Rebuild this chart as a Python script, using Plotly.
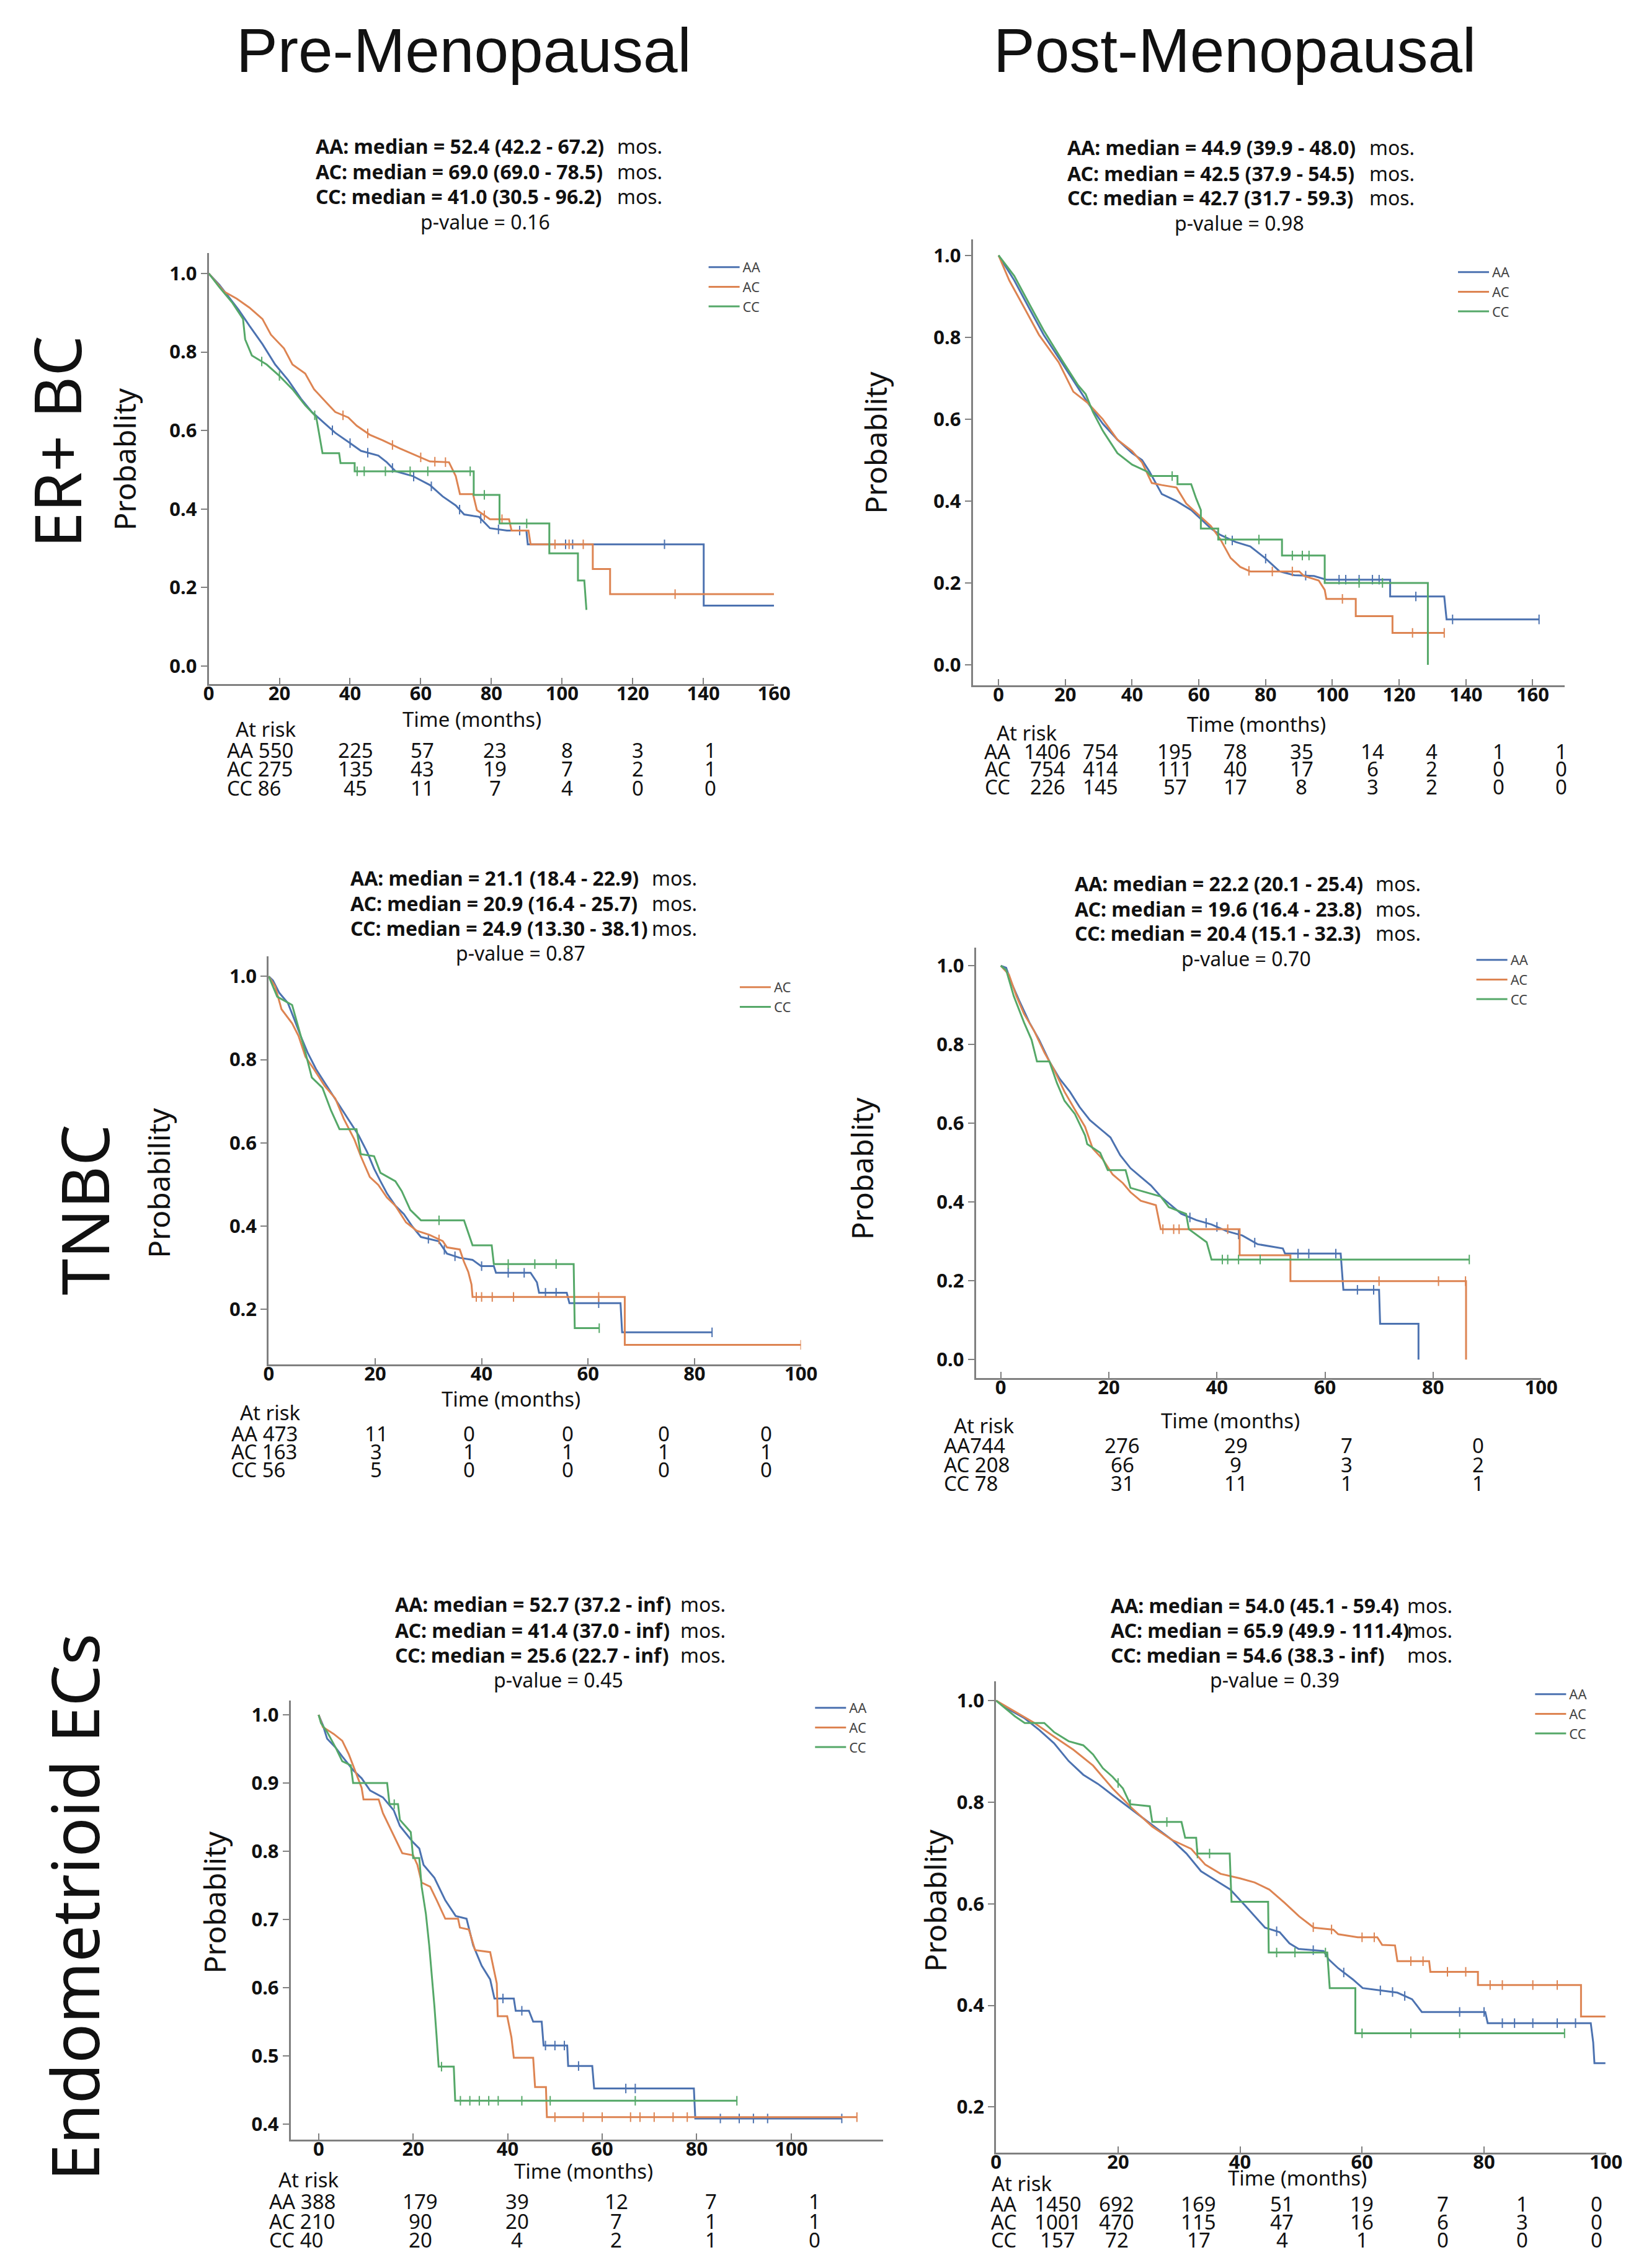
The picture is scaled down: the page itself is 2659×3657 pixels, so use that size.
import numpy as np
import plotly.graph_objects as go

W, H = 2659, 3657

GROUPS = ["AA", "AC", "CC"]
COLORS = {"AA": "#4C72B0", "AC": "#DD8452", "CC": "#55A868"}
COL_TITLES = ["Pre-Menopausal", "Post-Menopausal"]
ROW_TITLES = ["ER+ BC", "TNBC", "Endometrioid ECs"]

# ---------------- Panel 1: ER+ BC, pre-menopausal ----------------
P1_AA_t = [0, 3, 5.5, 8.5, 11.5, 15.2, 18.8, 22.5, 26.1, 29.2, 32.2, 35.8, 39.5, 43.1, 48, 50.4, 52.9, 57.7, 62.6, 66.2, 69.9, 72.3, 76.5, 79.6, 84.4, 89.9, 90.3, 140.1, 140.1, 160]
P1_AA_s = [1.0, 0.971, 0.942, 0.907, 0.867, 0.82, 0.768, 0.728, 0.681, 0.647, 0.623, 0.594, 0.571, 0.548, 0.536, 0.519, 0.496, 0.484, 0.461, 0.432, 0.409, 0.386, 0.38, 0.351, 0.345, 0.345, 0.31, 0.31, 0.154, 0.154]
P1_AA_c = [35, 40, 45, 52, 58, 63, 71, 77, 82, 88, 101, 103, 129]
P1_AC_t = [0, 4.3, 7.9, 11.5, 15.2, 17.6, 21.3, 23.7, 27.3, 29.8, 33.4, 35.8, 39.5, 41.9, 45.6, 49.2, 54.1, 58.9, 62.6, 68, 69.9, 71.1, 74.8, 75.9, 79.6, 85, 85.7, 90.5, 91.1, 108.7, 108.7, 113.6, 113.6, 160]
P1_AC_s = [1.0, 0.954, 0.936, 0.913, 0.884, 0.844, 0.809, 0.768, 0.745, 0.705, 0.67, 0.647, 0.633, 0.612, 0.589, 0.575, 0.554, 0.536, 0.521, 0.519, 0.484, 0.438, 0.438, 0.397, 0.374, 0.374, 0.345, 0.345, 0.31, 0.31, 0.247, 0.247, 0.183, 0.183]
P1_AC_c = [38, 45, 52, 60, 64, 67, 78, 83, 98, 102, 106, 132]
P1_CC_t = [0, 3, 6.7, 9.7, 10.3, 12.2, 16.4, 20, 23.7, 27.3, 30.4, 31.6, 32.2, 36.9, 37.3, 41.3, 41.3, 75, 75, 82.3, 82.3, 96.4, 96.4, 104.5, 104.5, 106.3, 106.9]
P1_CC_s = [1.0, 0.965, 0.925, 0.884, 0.832, 0.791, 0.768, 0.739, 0.705, 0.664, 0.635, 0.577, 0.542, 0.542, 0.517, 0.517, 0.496, 0.496, 0.436, 0.436, 0.363, 0.363, 0.287, 0.287, 0.218, 0.218, 0.143]
P1_CC_c = [15, 20, 30, 42, 44, 50, 57, 62, 74, 78, 90]
P1_MEDIAN = ["52.4 (42.2 - 67.2)", "69.0 (69.0 - 78.5)", "41.0 (30.5 - 96.2)"]
P1_PVALUE = "0.16"
P1_RISK = {"AA": [550, 225, 57, 23, 8, 3, 1, 1], "AC": [275, 135, 43, 19, 7, 2, 1, 0], "CC": [86, 45, 11, 7, 4, 0, 0, 0]}

# ---------------- Panel 2: ER+ BC, post-menopausal ----------------
P2_AA_t = [0, 4.7, 9.1, 13.5, 18, 22.4, 26.8, 31.2, 35.6, 40, 43, 45.2, 48.9, 53.3, 57.7, 60.6, 63.6, 66.5, 71, 75.4, 79.8, 84.2, 88.6, 94.5, 98.2, 117.3, 117.3, 133.5, 134.2, 161.9]
P2_AA_s = [1.0, 0.939, 0.872, 0.806, 0.75, 0.694, 0.639, 0.589, 0.55, 0.517, 0.5, 0.472, 0.417, 0.4, 0.378, 0.356, 0.333, 0.317, 0.3, 0.289, 0.261, 0.228, 0.219, 0.217, 0.208, 0.208, 0.167, 0.167, 0.111, 0.111]
P2_AA_c = [70, 80, 92, 102, 104, 108, 112, 114, 125, 136, 161.9]
P2_AC_t = [0, 3.2, 7.7, 12.1, 18, 22.4, 26.8, 31.2, 35.6, 40, 43, 45.9, 48.9, 53.3, 56.2, 60.6, 63.6, 66.5, 69.5, 72.4, 75.4, 90.1, 91.5, 95.9, 97.7, 98.2, 107, 107, 118, 118, 133.5]
P2_AC_s = [1.0, 0.939, 0.872, 0.806, 0.739, 0.667, 0.639, 0.6, 0.55, 0.522, 0.494, 0.444, 0.439, 0.433, 0.394, 0.361, 0.339, 0.306, 0.261, 0.239, 0.228, 0.228, 0.217, 0.206, 0.183, 0.161, 0.161, 0.119, 0.119, 0.078, 0.078]
P2_AC_c = [75, 82, 88, 103, 124, 133.5]
P2_CC_t = [0, 4.7, 9.1, 13.5, 19.4, 23.8, 26.1, 28.3, 31.2, 35.6, 40, 44.5, 45.6, 53.6, 53.6, 57.7, 59.2, 60.6, 60.6, 65.8, 65.8, 84.9, 84.9, 97.7, 97.7, 128.6, 128.6]
P2_CC_s = [1.0, 0.95, 0.883, 0.817, 0.739, 0.683, 0.661, 0.617, 0.572, 0.517, 0.489, 0.472, 0.461, 0.461, 0.441, 0.441, 0.406, 0.378, 0.333, 0.333, 0.306, 0.306, 0.267, 0.267, 0.2, 0.2, 0.0]
P2_CC_c = [52, 68, 78, 88, 91, 93, 108, 115]
P2_MEDIAN = ["44.9 (39.9 - 48.0)", "42.5 (37.9 - 54.5)", "42.7 (31.7 - 59.3)"]
P2_PVALUE = "0.98"
P2_RISK = {"AA": [1406, 754, 195, 78, 35, 14, 4, 1, 1], "AC": [754, 414, 111, 40, 17, 6, 2, 0, 0], "CC": [226, 145, 57, 17, 8, 3, 2, 0, 0]}

# ---------------- Panel 3: TNBC, pre-menopausal ----------------
P3_AA_t = [0, 0.8, 2, 3.6, 4.8, 6, 7.3, 8.9, 10.9, 12.9, 14.9, 16.9, 18.5, 19.8, 21, 22.2, 23.8, 25.4, 27, 28.6, 31.9, 33.5, 35.9, 38.3, 39.9, 42.3, 42.7, 49.2, 50.4, 50.8, 56, 56.5, 66.1, 66.4, 83.3]
P3_AA_s = [1.0, 0.99, 0.96, 0.936, 0.897, 0.857, 0.817, 0.777, 0.737, 0.698, 0.658, 0.618, 0.578, 0.538, 0.508, 0.479, 0.449, 0.429, 0.399, 0.374, 0.364, 0.334, 0.324, 0.319, 0.304, 0.304, 0.288, 0.288, 0.265, 0.24, 0.24, 0.215, 0.215, 0.145, 0.145]
P3_AA_c = [30, 33, 35, 40, 45, 48, 52, 54, 62, 83.3]
P3_AC_t = [0, 1.2, 2.4, 4.4, 5.6, 6.9, 8.5, 10.5, 12.5, 14.1, 16.1, 17.3, 19, 20.6, 22.2, 23.8, 25.8, 27.8, 30.2, 32.7, 33.5, 35.9, 36.7, 37.5, 38.1, 38.3, 66.9, 66.9, 100]
P3_AC_s = [1.0, 0.976, 0.921, 0.887, 0.857, 0.807, 0.777, 0.737, 0.707, 0.658, 0.608, 0.568, 0.518, 0.499, 0.469, 0.449, 0.409, 0.389, 0.379, 0.364, 0.349, 0.344, 0.314, 0.29, 0.26, 0.23, 0.23, 0.115, 0.115]
P3_AC_c = [32, 39, 40, 42, 46, 62, 100]
P3_CC_t = [0, 1.6, 4.4, 5.6, 6.9, 8.1, 10.1, 11.7, 13.3, 16.5, 17.3, 19.8, 21, 23.8, 25, 26.6, 28.6, 36.7, 38.3, 41.9, 42.3, 57.3, 57.5, 62.1]
P3_CC_s = [1.0, 0.951, 0.931, 0.877, 0.817, 0.757, 0.732, 0.678, 0.633, 0.633, 0.573, 0.568, 0.528, 0.508, 0.484, 0.439, 0.414, 0.414, 0.354, 0.354, 0.309, 0.309, 0.155, 0.155]
P3_CC_c = [32, 45, 50, 54, 62.1]
P3_MEDIAN = ["21.1 (18.4 - 22.9)", "20.9 (16.4 - 25.7)", "24.9 (13.30 - 38.1)"]
P3_PVALUE = "0.87"
P3_RISK = {"AA": [473, 11, 0, 0, 0, 0], "AC": [163, 3, 1, 1, 1, 1], "CC": [56, 5, 0, 0, 0, 0]}

# ---------------- Panel 4: TNBC, post-menopausal ----------------
P4_AA_t = [0, 1, 2, 3.4, 5.3, 7.1, 9, 10.9, 12.8, 14.6, 16.5, 18.4, 20.3, 22.1, 24, 25.9, 27.8, 29.6, 31.5, 33.4, 36.2, 39, 41.8, 44.7, 47.5, 52.2, 52.6, 62.9, 63.4, 70, 70.2, 77.3, 77.3]
P4_AA_s = [1.0, 0.995, 0.956, 0.912, 0.856, 0.812, 0.757, 0.713, 0.68, 0.641, 0.608, 0.586, 0.564, 0.519, 0.486, 0.464, 0.442, 0.414, 0.392, 0.37, 0.354, 0.343, 0.326, 0.315, 0.293, 0.282, 0.269, 0.269, 0.177, 0.177, 0.091, 0.091, 0.0]
P4_AA_c = [35, 38, 40, 44, 47, 55, 57, 62, 66, 69]
P4_AC_t = [0, 1.5, 2.9, 4.3, 6.2, 8.1, 9.9, 11.8, 13.7, 15.6, 17, 18.9, 20.7, 22.6, 24, 25.9, 28.7, 29.6, 44.2, 44.2, 53.6, 53.6, 86.1, 86.1]
P4_AC_s = [1.0, 0.978, 0.923, 0.878, 0.834, 0.779, 0.735, 0.68, 0.635, 0.591, 0.536, 0.508, 0.47, 0.448, 0.425, 0.403, 0.392, 0.331, 0.331, 0.265, 0.265, 0.199, 0.199, 0.0]
P4_AC_c = [30, 32, 33, 42, 70, 81, 86]
P4_CC_t = [0, 1, 2.4, 4.3, 5.7, 6.7, 9, 10.4, 11.8, 13.7, 15.6, 16, 18.4, 19.8, 23.1, 24, 29.6, 31.1, 34.3, 34.8, 38.1, 39, 86.7]
P4_CC_s = [1.0, 0.989, 0.923, 0.856, 0.812, 0.757, 0.757, 0.702, 0.657, 0.624, 0.569, 0.547, 0.525, 0.481, 0.481, 0.436, 0.414, 0.387, 0.37, 0.331, 0.298, 0.254, 0.254]
P4_CC_c = [41, 42, 44, 48, 86.7]
P4_MEDIAN = ["22.2 (20.1 - 25.4)", "19.6 (16.4 - 23.8)", "20.4 (15.1 - 32.3)"]
P4_PVALUE = "0.70"
P4_RISK = {"AA": [744, 276, 29, 7, 0], "AC": [208, 66, 9, 3, 2], "CC": [78, 31, 11, 1, 1]}

# ---------------- Panel 5: Endometrioid ECs, pre-menopausal ----------------
P5_AA_t = [0, 0.9, 1.8, 3.6, 5, 7.3, 9.1, 10.9, 13.6, 15.9, 17.2, 20, 21.3, 22.2, 24.5, 26.8, 29, 31.3, 32.7, 34.5, 36.3, 37.2, 41.3, 41.7, 44.5, 45.4, 47.2, 47.6, 52.6, 52.8, 57.9, 58.3, 79.4, 79.7, 110.7]
P5_AA_s = [1.0, 0.985, 0.965, 0.952, 0.939, 0.919, 0.907, 0.889, 0.879, 0.86, 0.837, 0.813, 0.804, 0.78, 0.761, 0.728, 0.705, 0.701, 0.662, 0.632, 0.612, 0.584, 0.584, 0.566, 0.566, 0.55, 0.55, 0.515, 0.515, 0.485, 0.485, 0.452, 0.452, 0.408, 0.408]
P5_AA_c = [39, 43, 48, 50, 52, 55, 65, 67, 85, 89, 92, 95, 110.7]
P5_AC_t = [0, 0.9, 3.2, 5, 6.4, 7.7, 9.1, 9.5, 12.7, 13.6, 15.4, 16.8, 17.7, 20, 20.9, 21.8, 23.6, 25, 26.8, 29.5, 29.9, 31.8, 33.1, 36.3, 37.7, 37.9, 39.9, 40.8, 41.3, 45.4, 45.8, 48.1, 48.3, 113.9]
P5_AC_s = [1.0, 0.982, 0.972, 0.962, 0.942, 0.919, 0.893, 0.876, 0.876, 0.856, 0.83, 0.81, 0.797, 0.794, 0.78, 0.754, 0.748, 0.728, 0.701, 0.701, 0.688, 0.685, 0.655, 0.652, 0.606, 0.558, 0.558, 0.527, 0.497, 0.497, 0.454, 0.454, 0.41, 0.41]
P5_AC_c = [50, 56, 60, 66, 68, 71, 75, 78, 113.9]
P5_CC_t = [0, 0.5, 1.8, 3.6, 5, 6.8, 7.3, 14.5, 15, 16.8, 17.2, 19.5, 20, 21.3, 21.8, 22.7, 23.4, 24, 24.5, 24.95, 25.4, 28.6, 28.9, 88.5]
P5_CC_s = [1.0, 0.988, 0.975, 0.952, 0.932, 0.926, 0.9, 0.9, 0.869, 0.869, 0.846, 0.828, 0.79, 0.79, 0.748, 0.708, 0.662, 0.616, 0.573, 0.53, 0.484, 0.484, 0.434, 0.434]
P5_CC_c = [16, 26, 30, 32, 34, 36, 38, 43, 49, 67, 88.5]
P5_MEDIAN = ["52.7 (37.2 - inf)", "41.4 (37.0 - inf)", "25.6 (22.7 - inf)"]
P5_PVALUE = "0.45"
P5_RISK = {"AA": [388, 179, 39, 12, 7, 1], "AC": [210, 90, 20, 7, 1, 1], "CC": [40, 20, 4, 2, 1, 0]}

# ---------------- Panel 6: Endometrioid ECs, post-menopausal ----------------
P6_AA_t = [0, 2.2, 4.7, 7.1, 9.5, 11.9, 14.3, 16.7, 19.1, 21.5, 24, 26.4, 28.8, 31.2, 33.6, 36, 38.4, 40.8, 42.4, 44.1, 46.5, 48.1, 49.6, 53.7, 54.5, 56.1, 58.5, 60.1, 63.3, 65.8, 68.2, 69.8, 80.2, 80.6, 97.5, 97.9, 98.1, 99.9]
P6_AA_s = [1.0, 0.982, 0.965, 0.942, 0.916, 0.881, 0.854, 0.836, 0.814, 0.792, 0.77, 0.748, 0.726, 0.699, 0.664, 0.646, 0.628, 0.597, 0.575, 0.553, 0.544, 0.522, 0.511, 0.507, 0.491, 0.473, 0.451, 0.434, 0.429, 0.425, 0.412, 0.387, 0.387, 0.365, 0.365, 0.327, 0.286, 0.286]
P6_AA_c = [46, 52, 57, 63, 65, 67, 76, 80, 83, 85, 88, 92, 95]
P6_AC_t = [0, 3.1, 6.3, 9.5, 12.7, 15.9, 19.1, 22.3, 25.6, 28.8, 32, 34.3, 36.8, 40, 42.4, 44.8, 47.3, 49.7, 52.1, 55.3, 56.1, 59.3, 62.5, 63.3, 65.4, 65.8, 71, 71.2, 79, 79, 95.9, 95.9, 99.9]
P6_AC_s = [1.0, 0.978, 0.956, 0.929, 0.903, 0.872, 0.827, 0.788, 0.752, 0.726, 0.708, 0.677, 0.659, 0.65, 0.642, 0.628, 0.602, 0.575, 0.553, 0.549, 0.54, 0.534, 0.534, 0.519, 0.518, 0.487, 0.487, 0.466, 0.466, 0.44, 0.44, 0.378, 0.378]
P6_AC_c = [52, 55, 60, 62, 68, 70, 74, 77, 81, 83, 88, 92]
P6_CC_t = [0, 3.1, 4.7, 7.9, 9.5, 11.9, 14.3, 15.9, 17.5, 19.1, 20.8, 22, 25.2, 25.6, 30.4, 31, 32.8, 33, 38.3, 38.6, 44.6, 44.7, 54.3, 54.7, 58.9, 58.9, 93.2]
P6_CC_s = [1.0, 0.969, 0.956, 0.956, 0.938, 0.92, 0.912, 0.894, 0.867, 0.85, 0.827, 0.796, 0.792, 0.761, 0.761, 0.73, 0.73, 0.699, 0.699, 0.604, 0.604, 0.504, 0.504, 0.434, 0.434, 0.345, 0.345]
P6_CC_c = [20, 22, 28, 33, 35, 46, 49, 54, 60, 68, 76, 93.2]
P6_MEDIAN = ["54.0 (45.1 - 59.4)", "65.9 (49.9 - 111.4)", "54.6 (38.3 - inf)"]
P6_PVALUE = "0.39"
P6_RISK = {"AA": [1450, 692, 169, 51, 19, 7, 1, 0], "AC": [1001, 470, 115, 47, 16, 6, 3, 0], "CC": [157, 72, 17, 4, 1, 0, 0, 0]}

CURVES = {
    1: {"AA": (P1_AA_t, P1_AA_s, P1_AA_c), "AC": (P1_AC_t, P1_AC_s, P1_AC_c), "CC": (P1_CC_t, P1_CC_s, P1_CC_c)},
    2: {"AA": (P2_AA_t, P2_AA_s, P2_AA_c), "AC": (P2_AC_t, P2_AC_s, P2_AC_c), "CC": (P2_CC_t, P2_CC_s, P2_CC_c)},
    3: {"AA": (P3_AA_t, P3_AA_s, P3_AA_c), "AC": (P3_AC_t, P3_AC_s, P3_AC_c), "CC": (P3_CC_t, P3_CC_s, P3_CC_c)},
    4: {"AA": (P4_AA_t, P4_AA_s, P4_AA_c), "AC": (P4_AC_t, P4_AC_s, P4_AC_c), "CC": (P4_CC_t, P4_CC_s, P4_CC_c)},
    5: {"AA": (P5_AA_t, P5_AA_s, P5_AA_c), "AC": (P5_AC_t, P5_AC_s, P5_AC_c), "CC": (P5_CC_t, P5_CC_s, P5_CC_c)},
    6: {"AA": (P6_AA_t, P6_AA_s, P6_AA_c), "AC": (P6_AC_t, P6_AC_s, P6_AC_c), "CC": (P6_CC_t, P6_CC_s, P6_CC_c)},
}
MEDIANS = {1: P1_MEDIAN, 2: P2_MEDIAN, 3: P3_MEDIAN, 4: P4_MEDIAN, 5: P5_MEDIAN, 6: P6_MEDIAN}
PVALUES = {1: P1_PVALUE, 2: P2_PVALUE, 3: P3_PVALUE, 4: P4_PVALUE, 5: P5_PVALUE, 6: P6_PVALUE}
RISKS = {1: P1_RISK, 2: P2_RISK, 3: P3_RISK, 4: P4_RISK, 5: P5_RISK, 6: P6_RISK}

# ---------------- layout (pixel positions) ----------------
PANELS = {
    1: dict(xd=(324, 1248), yd=(400, 1095), xr=[0, 160], yr=[-0.046, 1.052],
            xt=[0, 20, 40, 60, 80, 100, 120, 140, 160], yt=[0, 0.2, 0.4, 0.6, 0.8, 1.0],
            ty=(235, 275, 316, 356), tx=497, mx=989, px=776,
            yl=(203, 732, "Probablity"), xl=(754, 1159),
            leg=(1141, 429), leg_groups=GROUPS,
            rh=(418, 1174), rr=(1208, 1238, 1269), rlx=352, inline=True, sep=[" ", " ", " "],
            rc=[41.5, 60.5, 81, 101.5, 121.5, 142, 162]),
    2: dict(xd=(1573, 2540), yd=(378, 1097), xr=[-7.7, 169.5], yr=[-0.05, 1.039],
            xt=[0, 20, 40, 60, 80, 100, 120, 140, 160], yt=[0, 0.2, 0.4, 0.6, 0.8, 1.0],
            ty=(237, 278, 318, 358), tx=1725, mx=2219, px=2009,
            yl=(1430, 706, "Probablity"), xl=(2037, 1166),
            leg=(2366, 437), leg_groups=GROUPS,
            rh=(1661, 1181), rr=(1210, 1238, 1267), rlx=1613, inline=False,
            rc=[14.7, 30.5, 52.9, 71, 90.8, 112, 129.8, 149.7, 168.5]),
    3: dict(xd=(422, 1292), yd=(1534, 2192), xr=[0, 100], yr=[0.068, 1.048],
            xt=[0, 20, 40, 60, 80, 100], yt=[0.2, 0.4, 0.6, 0.8, 1.0],
            ty=(1415, 1455, 1495, 1535), tx=553, mx=1046, px=834,
            yl=(258, 1900, "Probability"), xl=(818, 2254),
            leg=(1192, 1590), leg_groups=["AC", "CC"],
            rh=(425, 2276), rr=(2310, 2339, 2368), rlx=359, inline=True, sep=[" ", " ", " "],
            rc=[20.2, 37.7, 56.2, 74.2, 93.5]),
    4: dict(xd=(1578, 2502), yd=(1520, 2214), xr=[-4.6, 100], yr=[-0.047, 1.046],
            xt=[0, 20, 40, 60, 80, 100], yt=[0, 0.2, 0.4, 0.6, 0.8, 1.0],
            ty=(1423, 1464, 1504, 1544), tx=1738, mx=2229, px=2020,
            yl=(1408, 1876, "Probablity"), xl=(1994, 2289),
            leg=(2396, 1546), leg_groups=GROUPS,
            rh=(1592, 2297), rr=(2329, 2360, 2390), rlx=1524, inline=True, sep=["", " ", " "],
            rc=[22.5, 43.5, 64, 88.3]),
    5: dict(xd=(458, 1426), yd=(2734, 3442), xr=[-5.9, 119.4], yr=[0.377, 1.021],
            xt=[0, 20, 40, 60, 80, 100], yt=[0.4, 0.5, 0.6, 0.7, 0.8, 0.9, 1.0],
            ty=(2585, 2627, 2667, 2707), tx=626, mx=1093, px=896,
            yl=(349, 3060, "Probablity"), xl=(937, 3499),
            leg=(1315, 2752), leg_groups=GROUPS,
            rh=(488, 3513), rr=(3548, 3580, 3610), rlx=421, inline=True, sep=[" ", " ", " "],
            rc=[21.5, 42, 63, 83, 105]),
    6: dict(xd=(1611, 2608), yd=(2703, 3463), xr=[0, 100], yr=[0.11, 1.038],
            xt=[0, 20, 40, 60, 80, 100], yt=[0.2, 0.4, 0.6, 0.8, 1.0],
            ty=(2587, 2627, 2667, 2707), tx=1796, mx=2281, px=2066,
            yl=(1527, 3057, "Probablity"), xl=(2103, 3510),
            leg=(2492, 2730), leg_groups=GROUPS,
            rh=(1653, 3519), rr=(3552, 3581, 3610), rlx=1623, inline=False,
            rc=[10.1, 19.8, 33.2, 46.9, 60, 73.2, 86.3, 98.5]),
}

FONT = "Noto Sans"
INK = "#111111"
AXIS_GRAY = "#808080"
TEXT_DY = -7      # glyph centre sits below the annotation box centre
ROT_DX = -17      # same correction for text turned by -90 degrees


def fx(px):
    return px / W


def fy(py):
    return 1 - py / H


fig = go.Figure()
annotations = []


def ann(text, px, py, size, xanchor="center", yanchor="middle", weight="normal",
        angle=0, family=FONT, color=INK, xref="paper", xval=None):
    if angle == 0:
        py = py + TEXT_DY
    elif xanchor == "center":
        px = px + ROT_DX
    annotations.append(dict(
        text=text, x=(xval if xval is not None else fx(px)), y=fy(py),
        xref=xref, yref="paper", xanchor=xanchor, yanchor=yanchor,
        showarrow=False, textangle=angle,
        font=dict(family=family, size=size, color=color, weight=weight)))


for i, cfg in PANELS.items():
    sfx = "" if i == 1 else str(i)
    xa, ya = "x" + sfx, "y" + sfx
    leg = "legend" + sfx
    for g in GROUPS:
        t, s, c = CURVES[i][g]
        fig.add_trace(go.Scatter(
            x=t, y=s, mode="lines", name=g, xaxis=xa, yaxis=ya, legend=leg,
            line=dict(color=COLORS[g], width=3),
            showlegend=(g in cfg["leg_groups"]), hoverinfo="skip"))
        cy = np.interp(c, t, s)
        fig.add_trace(go.Scatter(
            x=c, y=cy, mode="markers", xaxis=xa, yaxis=ya, showlegend=False,
            marker=dict(symbol="line-ns", size=11, color=COLORS[g],
                        line=dict(color=COLORS[g], width=2)), hoverinfo="skip"))

    axis_common = dict(showline=True, linecolor=AXIS_GRAY, linewidth=3, showgrid=False,
                       zeroline=False, tickcolor=AXIS_GRAY, tickwidth=2, ticklen=10,
                       tickfont=dict(family=FONT, size=31, color=INK, weight="bold"))
    fig.update_layout(**{
        "xaxis" + sfx: dict(domain=[fx(cfg["xd"][0]), fx(cfg["xd"][1])], range=cfg["xr"],
                            anchor=ya, tickmode="array", tickvals=cfg["xt"], ticks="inside",
                            ticklabelstandoff=-14, **axis_common),
        "yaxis" + sfx: dict(domain=[fy(cfg["yd"][1]), fy(cfg["yd"][0])], range=cfg["yr"],
                            anchor=xa, tickmode="array", tickvals=cfg["yt"],
                            ticktext=["%.1f" % v for v in cfg["yt"]], ticks="outside",
                            **axis_common),
        leg: dict(x=fx(cfg["leg"][0] - 5), y=fy(cfg["leg"][1] - 27), xanchor="left",
                  yanchor="top", bgcolor="rgba(0,0,0,0)", borderwidth=0, itemwidth=50,
                  font=dict(family=FONT, size=22, color="#444444"), tracegroupgap=0),
    })

    # median / p-value header
    for k, g in enumerate(GROUPS):
        ann("%s: median = %s" % (g, MEDIANS[i][k]), cfg["tx"], cfg["ty"][k], 32,
            xanchor="left", weight="bold")
        ann("mos.", cfg["mx"], cfg["ty"][k], 32, xanchor="left")
    ann("p-value = %s" % PVALUES[i], cfg["px"], cfg["ty"][3], 32)

    # axis titles
    ann(cfg["yl"][2], cfg["yl"][0], cfg["yl"][1], 48, angle=-90)
    ann("Time (months)", cfg["xl"][0], cfg["xl"][1], 33)

    # at-risk table
    ann("At risk", cfg["rh"][0], cfg["rh"][1], 33)
    for k, g in enumerate(GROUPS):
        vals = RISKS[i][g]
        ry = cfg["rr"][k]
        if cfg["inline"]:
            ann("%s%s%d" % (g, cfg["sep"][k], vals[0]), cfg["rlx"], ry, 33, xanchor="left")
            rest = vals[1:]
        else:
            ann(g, cfg["rlx"], ry, 33)
            rest = vals
        for v, cx in zip(rest, cfg["rc"]):
            ann(str(v), 0, ry, 33, xref=xa, xval=cx)

# column & row titles
ann(COL_TITLES[0], 741, 80, 100, family="Liberation Sans")
ann(COL_TITLES[1], 2001, 80, 100, family="Liberation Sans")
ann(ROW_TITLES[0], 0, 705, 104, angle=-90, xanchor="left")   # kept inside the left edge
ann(ROW_TITLES[1], 137, 1943, 106, angle=-90)
ann(ROW_TITLES[2], 120, 3067, 106, angle=-90)

fig.update_layout(width=W, height=H, margin=dict(l=0, r=0, t=0, b=0),
                  paper_bgcolor="white", plot_bgcolor="white",
                  showlegend=True, annotations=annotations)

fig.write_html("out.html")
